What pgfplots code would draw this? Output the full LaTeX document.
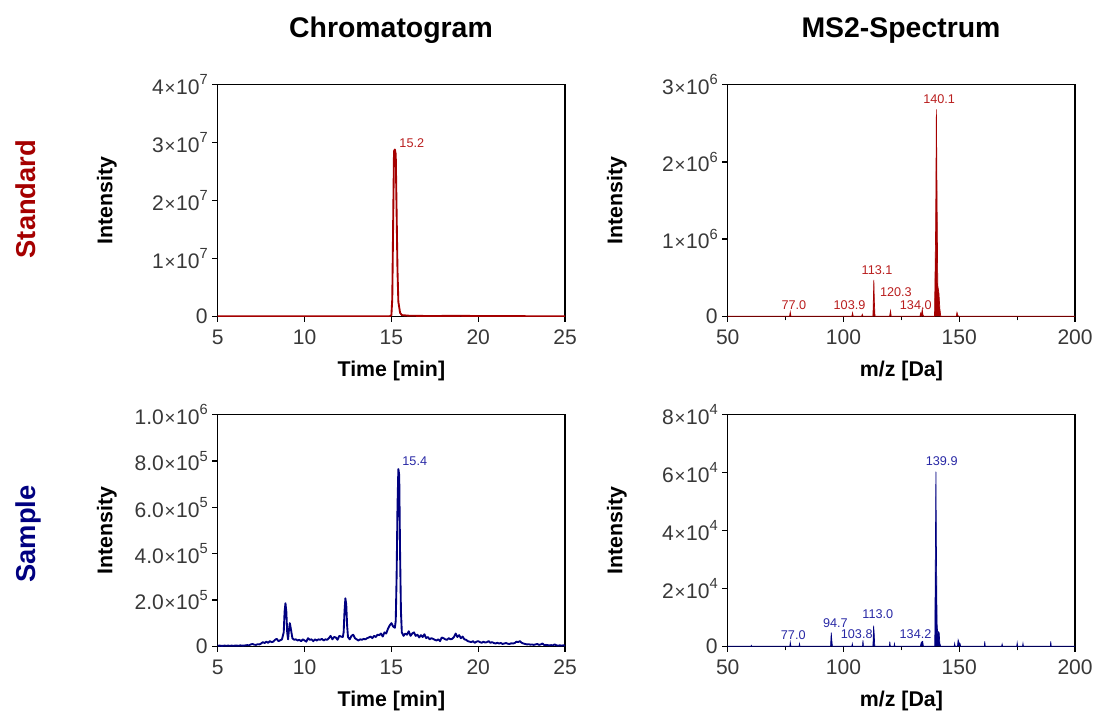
\documentclass[border=0pt]{standalone}
\usepackage{fontspec}
\setmainfont{Liberation Sans}
\usepackage{pgfplots}
\pgfplotsset{compat=1.18}

\definecolor{stdred}{RGB}{165,0,0}
\definecolor{stdlab}{RGB}{185,30,30}
\definecolor{smpblue}{RGB}{0,0,128}
\definecolor{smplab}{RGB}{40,40,165}

% mantissa x 10^exponent tick label
\newcommand{\sci}[2]{#1\kern0.5pt{\fontsize{14}{14}\selectfont ×}\kern0.5pt10\raisebox{0.45em}{\fontsize{11}{11}\selectfont #2}}

\tikzset{peaklabel/.style={font=\fontsize{9.5}{10}\selectfont, inner sep=0pt}}

\pgfplotsset{
  panel/.style={
    scale only axis, width=260.5pt, height=173.7pt,
    xtick pos=bottom, ytick pos=left,
    tick align=outside,
    major tick length=4pt, minor tick length=3pt,
    every tick/.style={black, line width=1pt},
    axis line style={line width=1.1pt},
    tick label style={font=\fontsize{15.8}{16}\selectfont, text=black!78},
    xticklabel style={yshift=-2.5pt},
    label style={font=\bfseries\fontsize{16}{18}\selectfont},
    /pgf/number format/assume math mode=true,
    scaled y ticks=false,
    ylabel=Intensity,
    ylabel style={at={(axis description cs:-0.319,0.5)}, anchor=center},
    xlabel style={at={(axis description cs:0.5,-0.258)}, anchor=base},
    clip mode=individual,
    ymin=0,
  },
  chrom/.style={panel, xmin=5, xmax=25, xtick={5,10,15,20,25}, xlabel={Time [min]}},
  spec/.style={panel, xmin=50, xmax=200, xtick={50,100,150,200},
    minor xtick={75,125,175}, xlabel={m/z [Da]}},
}

% Standard chromatogram
\pgfplotstableread{
t I
5.0 0
8.0 0
12.0 0
14.9 0
15.0 200000
15.05 3000000
15.1 16000000
15.15 28500000
15.2 28800000
15.25 28000000
15.3 18000000
15.35 8000000
15.4 2500000
15.5 600000
15.6 200000
16.0 100000
17.0 50000
18.0 60000
19.0 80000
20.0 40000
22.0 30000
23.0 10000
25.0 0
}\stdchrom

% Standard MS2 spectrum (profile)
\pgfplotstableread{
mz I
50 0
76.7 0
77.0 55000
77.3 0
103.6 0
103.9 45000
104.2 0
107.8 0
108.1 25000
108.4 0
112.7 0
113.1 470000
113.3 200000
113.6 0
119.9 0
120.3 70000
120.6 0
133.0 0
133.3 40000
133.6 10000
134.0 90000
134.3 20000
134.6 0
139.3 0
139.8 1200000
140.1 2680000
140.4 1500000
140.7 400000
141.2 300000
141.6 100000
142.0 0
148.7 0
149.0 50000
149.4 10000
149.8 0
200 0
}\stdms

% Sample chromatogram
\pgfplotstableread{
t I
5.0 2000
5.1 3000
5.2 2000
5.3 2000
5.4 3000
5.5 2000
5.6 3000
5.7 2000
5.8 3000
5.9 2000
6.0 3000
6.1 3000
6.2 2000
6.3 4000
6.4 3000
6.5 3000
6.6 4000
6.7 5000
6.8 4000
6.9 8000
7.0 10000
7.1 7000
7.2 6000
7.3 9000
7.4 8000
7.5 12000
7.6 18000
7.7 14000
7.8 20000
7.9 15000
8.0 22000
8.1 18000
8.2 20000
8.3 28000
8.4 32000
8.5 22000
8.6 26000
8.7 30000
8.8 60000
8.85 150000
8.9 186000
8.95 150000
9.0 60000
9.05 30000
9.1 70000
9.15 100000
9.2 80000
9.3 35000
9.4 28000
9.5 30000
9.6 25000
9.7 28000
9.8 22000
9.9 30000
10.0 25000
10.1 20000
10.2 35000
10.3 28000
10.4 30000
10.5 22000
10.6 30000
10.7 25000
10.8 30000
10.9 28000
11.0 32000
11.1 25000
11.2 30000
11.3 28000
11.4 35000
11.5 45000
11.6 30000
11.7 40000
11.8 38000
11.9 28000
12.0 45000
12.1 42000
12.2 40000
12.25 60000
12.3 150000
12.35 207000
12.4 180000
12.45 90000
12.5 40000
12.6 30000
12.7 45000
12.8 50000
12.9 35000
13.0 30000
13.1 25000
13.2 30000
13.3 28000
13.4 32000
13.5 30000
13.6 35000
13.7 38000
13.8 42000
13.9 35000
14.0 45000
14.1 40000
14.2 50000
14.3 48000
14.4 55000
14.5 42000
14.6 60000
14.7 55000
14.8 75000
14.9 90000
15.0 100000
15.1 85000
15.2 80000
15.25 110000
15.3 300000
15.35 600000
15.4 765000
15.45 740000
15.5 400000
15.55 150000
15.6 60000
15.7 45000
15.8 55000
15.9 50000
16.0 65000
16.1 45000
16.2 55000
16.3 60000
16.4 45000
16.5 50000
16.6 38000
16.7 48000
16.8 40000
16.9 52000
17.0 35000
17.1 40000
17.2 30000
17.3 35000
17.4 32000
17.5 28000
17.6 25000
17.7 30000
17.8 22000
17.9 38000
18.0 35000
18.1 30000
18.2 28000
18.3 35000
18.4 30000
18.5 32000
18.6 40000
18.7 55000
18.8 40000
18.9 48000
19.0 35000
19.1 42000
19.2 30000
19.3 28000
19.4 22000
19.5 20000
19.6 18000
19.7 22000
19.8 15000
19.9 20000
20.0 22000
20.1 18000
20.2 15000
20.3 20000
20.4 16000
20.5 18000
20.6 22000
20.7 15000
20.8 18000
20.9 14000
21.0 12000
21.1 15000
21.2 12000
21.3 14000
21.4 10000
21.5 12000
21.6 14000
21.7 11000
21.8 10000
21.9 13000
22.0 12000
22.1 14000
22.2 20000
22.3 18000
22.4 22000
22.5 15000
22.6 12000
22.7 10000
22.8 8000
22.9 9000
23.0 7000
23.1 8000
23.2 6000
23.3 8000
23.4 10000
23.5 6000
23.6 8000
23.7 12000
23.8 5000
23.9 6000
24.0 5000
24.1 4000
24.2 5000
24.3 4000
24.4 8000
24.5 4000
24.6 3000
24.7 4000
24.8 3000
24.9 4000
25.0 3000
}\smpchrom

% Sample MS2 spectrum (profile)
\pgfplotstableread{
mz I
50 0
60.0 0
60.2 300
60.4 0
76.8 0
77.0 1400
77.3 0
80.8 0
81.0 900
81.2 0
94.4 0
94.7 4700
94.9 2500
95.2 0
103.6 0
103.8 900
104.0 0
108.2 0
108.4 2000
108.6 0
112.7 0
113.0 7100
113.2 5000
113.5 0
119.8 0
120.0 1600
120.2 0
121.8 0
122.0 900
122.2 0
133.2 0
133.5 1200
133.9 1600
134.2 1700
134.5 0
139.4 0
139.7 36000
139.9 60300
140.1 36000
140.4 8000
140.7 4000
141.0 5000
141.3 4700
141.6 1000
142.0 0
147.8 0
148.0 1000
148.2 0
149.2 0
149.5 2200
149.9 1200
150.3 1000
150.6 0
160.8 0
161.0 1700
161.2 0
168.3 0
168.5 800
168.7 0
174.8 0
175.0 1200
175.2 0
177.3 0
177.5 1000
177.7 0
189.3 0
189.5 1700
189.7 0
200 0
}\smpms

\begin{document}
\begin{tikzpicture}
\path[use as bounding box] (0,0) rectangle (821.25pt,-533.25pt);

% Standard chromatogram
\begin{axis}[chrom, at={(163.3pt,-237.2pt)}, anchor=south west,
  ymax=4e7, ytick={0,1e7,2e7,3e7,4e7},
  yticklabels={0,\sci{1}{7},\sci{2}{7},\sci{3}{7},\sci{4}{7}}]
  \addplot[stdred, line width=1.4pt, line join=round] table[x=t,y=I] {\stdchrom};
  \node[peaklabel, text=stdlab, anchor=base west] at (axis cs:15.45,2.92e7) {15.2};
\end{axis}

% Standard MS2 spectrum
\begin{axis}[spec, at={(545.8pt,-237.2pt)}, anchor=south west,
  ymax=3e6, ytick={0,1e6,2e6,3e6},
  yticklabels={0,\sci{1}{6},\sci{2}{6},\sci{3}{6}}]
  \addplot[stdred, fill=stdred, line width=0.5pt] table[x=mz,y=I] {\stdms};
  \node[peaklabel, text=stdlab, anchor=base] at (axis cs:141.3,2.75e6) {140.1};
  \node[peaklabel, text=stdlab, anchor=base] at (axis cs:114.5,5.35e5) {113.1};
  \node[peaklabel, text=stdlab, anchor=base] at (axis cs:122.6,2.54e5) {120.3};
  \node[peaklabel, text=stdlab, anchor=base] at (axis cs:131.2,8.5e4) {134.0};
  \node[peaklabel, text=stdlab, anchor=base] at (axis cs:102.6,8.5e4) {103.9};
  \node[peaklabel, text=stdlab, anchor=base] at (axis cs:78.6,8.5e4) {77.0};
\end{axis}

% Sample chromatogram
\begin{axis}[chrom, at={(163.3pt,-484.7pt)}, anchor=south west,
  ymax=1e6, ytick={0,2e5,4e5,6e5,8e5,1e6},
  yticklabels={0,\sci{2.0}{5},\sci{4.0}{5},\sci{6.0}{5},\sci{8.0}{5},\sci{1.0}{6}}]
  \addplot[smpblue, line width=1.4pt, line join=round] table[x=t,y=I] {\smpchrom};
  \node[peaklabel, text=smplab, anchor=base west] at (axis cs:15.62,7.8e5) {15.4};
\end{axis}

% Sample MS2 spectrum
\begin{axis}[spec, at={(545.8pt,-484.7pt)}, anchor=south west,
  ymax=8e4, ytick={0,2e4,4e4,6e4,8e4},
  yticklabels={0,\sci{2}{4},\sci{4}{4},\sci{6}{4},\sci{8}{4}}]
  \addplot[smpblue, fill=smpblue, line width=0.5pt] table[x=mz,y=I] {\smpms};
  \node[peaklabel, text=smplab, anchor=base] at (axis cs:142.4,6.24e4) {139.9};
  \node[peaklabel, text=smplab, anchor=base] at (axis cs:114.8,9.43e3) {113.0};
  \node[peaklabel, text=smplab, anchor=base] at (axis cs:96.5,6.56e3) {94.7};
  \node[peaklabel, text=smplab, anchor=base] at (axis cs:105.7,2.76e3) {103.8};
  \node[peaklabel, text=smplab, anchor=base] at (axis cs:78.3,2.18e3) {77.0};
  \node[peaklabel, text=smplab, anchor=base] at (axis cs:131.1,2.76e3) {134.2};
\end{axis}

% Column titles
\node[anchor=base, font=\bfseries\fontsize{21.3}{23}\selectfont] at (293.25pt,-27.75pt) {Chromatogram};
\node[anchor=base, font=\bfseries\fontsize{21.3}{23}\selectfont] at (675.75pt,-28pt) {MS2-Spectrum};

% Row labels
\node[anchor=base, rotate=90, text=stdred, font=\bfseries\fontsize{20.5}{22}\selectfont] at (26.25pt,-149.25pt) {Standard};
\node[anchor=base, rotate=90, text=smpblue, font=\bfseries\fontsize{20.5}{22}\selectfont] at (26.25pt,-400.5pt) {Sample};
\end{tikzpicture}
\end{document}
